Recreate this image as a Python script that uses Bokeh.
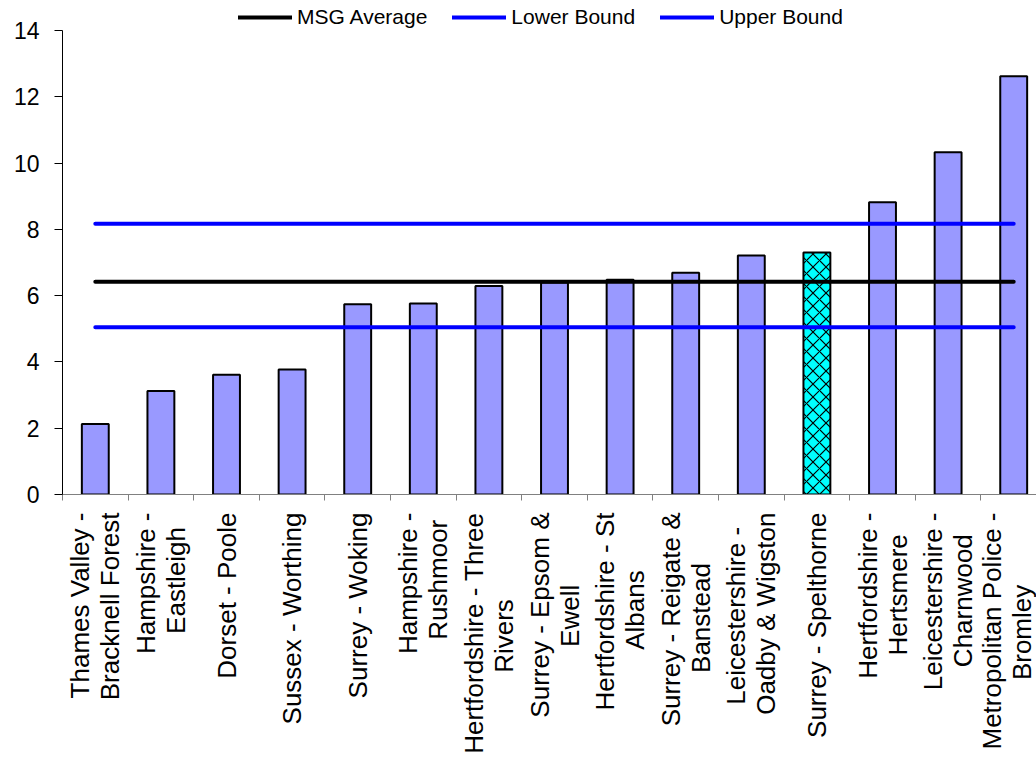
from math import pi
from bokeh.plotting import figure
from bokeh.models import (Range1d, FixedTicker, Legend, LegendItem, ColumnDataSource)
from bokeh.embed import file_html
from bokeh.resources import INLINE

# ---------------- data ----------------
categories = [
    "Thames Valley - Bracknell Forest", "Hampshire - Eastleigh", "Dorset - Poole",
    "Sussex - Worthing", "Surrey - Woking", "Hampshire - Rushmoor",
    "Hertfordshire - Three Rivers", "Surrey - Epsom & Ewell", "Hertfordshire - St Albans",
    "Surrey - Reigate & Banstead", "Leicestershire - Oadby & Wigston", "Surrey - Spelthorne",
    "Hertfordshire - Hertsmere", "Leicestershire - Charnwood", "Metropolitan Police - Bromley",
]
tick_labels = [
    "Thames Valley -\nBracknell Forest", "Hampshire -\nEastleigh", "Dorset - Poole",
    "Sussex - Worthing", "Surrey - Woking", "Hampshire -\nRushmoor",
    "Hertfordshire - Three\nRivers", "Surrey - Epsom &\nEwell", "Hertfordshire - St\nAlbans",
    "Surrey - Reigate &\nBanstead", "Leicestershire -\nOadby & Wigston", "Surrey - Spelthorne",
    "Hertfordshire -\nHertsmere", "Leicestershire -\nCharnwood", "Metropolitan Police -\nBromley",
]
values = [2.13, 3.12, 3.61, 3.77, 5.74, 5.76, 6.29, 6.40, 6.48, 6.69, 7.21, 7.30, 8.82, 10.33, 12.62]
highlight = "Surrey - Spelthorne"
msg_average = 6.42
lower_bound = 5.05
upper_bound = 8.17
y_ticks = [0, 2, 4, 6, 8, 10, 12, 14]
Y_AXIS_MAX = 14

# ---------------- layout ----------------
W, H = 1036, 761
LEFT, BOTTOM = 62, 267
FRAME_H = H - BOTTOM                  # frame reaches the top of the canvas
AXIS_TOP_PX = 30                      # where the value 14 sits
px_per_unit = (FRAME_H - AXIS_TOP_PX) / Y_AXIS_MAX
y_end = FRAME_H / px_per_unit
n = len(categories)
cat_pitch = 65.6                      # px per category
x_end = -0.5 + (W - LEFT) / cat_pitch

FONT = "Liberation Sans"
CAT_FS = 26

# approximate advance widths (Arial / Liberation Sans, per 1000 em) used to
# centre the wrapped lines of each rotated category label on each other
CW = {' ': 278, '-': 333, '&': 667, 'A': 667, 'B': 667, 'C': 722, 'D': 722, 'E': 667,
      'F': 611, 'H': 722, 'L': 556, 'M': 833, 'O': 778, 'P': 667, 'R': 722, 'S': 667,
      'T': 611, 'V': 667, 'W': 944, 'a': 556, 'b': 556, 'c': 500, 'd': 556, 'e': 556,
      'f': 278, 'g': 556, 'h': 556, 'i': 222, 'k': 500, 'l': 222, 'm': 833, 'n': 556,
      'o': 556, 'p': 556, 'r': 333, 's': 500, 't': 278, 'u': 556, 'v': 500, 'w': 722,
      'x': 500, 'y': 500}


def text_w(s):
    return sum(CW.get(c, 556) for c in s) / 1000.0 * CAT_FS


def centre_lines(label):
    lines = label.split("\n")
    if len(lines) == 1:
        return label
    L = max(text_w(s) for s in lines)
    sp = CW[' '] / 1000.0 * CAT_FS
    out = []
    for s in lines:
        k = int(round((L - text_w(s)) / 2.0 / sp))
        out.append(s + "\u00a0" * k)
    return "\n".join(out)


p = figure(width=W, height=H, output_backend="svg", toolbar_location=None,
           x_range=Range1d(-0.5, x_end), y_range=Range1d(0, y_end),
           min_border_left=LEFT, min_border_right=0, min_border_top=0,
           min_border_bottom=BOTTOM)
p.outline_line_color = None
p.grid.visible = False
p.background_fill_color = "white"
p.border_fill_color = "white"

xs = list(range(n))

# x axis: labels at category centres, ticks at category boundaries
p.xaxis.ticker = FixedTicker(ticks=xs, minor_ticks=[i - 0.5 for i in range(n + 1)])
p.xaxis.major_label_overrides = {i: centre_lines(tick_labels[i]) for i in xs}
p.xaxis.major_label_orientation = pi / 2
p.xaxis.axis_line_color = "#808080"
p.xaxis.axis_line_width = 1
p.xaxis.minor_tick_line_color = "#808080"
p.xaxis.minor_tick_in = 0
p.xaxis.minor_tick_out = 6
p.xaxis.major_tick_in = 0
p.xaxis.major_tick_out = 0
p.xaxis.major_label_standoff = 12
p.xaxis.major_label_text_font = FONT
p.xaxis.major_label_text_font_size = f"{CAT_FS}px"
p.xaxis.major_label_text_color = "black"
p.xaxis.major_label_text_line_height = 1.0

# y axis (line limited to 0..14)
p.yaxis.bounds = (0, Y_AXIS_MAX)
p.yaxis.ticker = FixedTicker(ticks=y_ticks, minor_ticks=[])
p.yaxis.axis_line_color = "#000000"
p.yaxis.major_tick_line_color = "#000000"
p.yaxis.major_tick_in = 0
p.yaxis.major_tick_out = 8
p.yaxis.minor_tick_out = 0
p.yaxis.minor_tick_in = 0
p.yaxis.major_label_standoff = 15
p.yaxis.major_label_text_font = FONT
p.yaxis.major_label_text_font_size = "23px"
p.yaxis.major_label_text_color = "black"

# bars
norm_idx = [i for i, c in enumerate(categories) if c != highlight]
hi_idx = [i for i, c in enumerate(categories) if c == highlight]
src_norm = ColumnDataSource(dict(x=[xs[i] for i in norm_idx], top=[values[i] for i in norm_idx]))
src_hi = ColumnDataSource(dict(x=[xs[i] for i in hi_idx], top=[values[i] for i in hi_idx]))

BAR_W = 0.41
p.vbar(x="x", top="top", bottom=0, width=BAR_W, source=src_norm,
       fill_color="#9999FF", line_color="black", line_width=2)
p.vbar(x="x", top="top", bottom=0, width=BAR_W, source=src_hi,
       fill_color="#00FFFF", line_color="black", line_width=2,
       hatch_pattern="diagonal_cross", hatch_color="black", hatch_scale=13,
       hatch_weight=1.2)

# reference lines
r_avg = p.line(xs, [msg_average] * n, line_color="black", line_width=4, line_cap="round")
r_low = p.line(xs, [lower_bound] * n, line_color="#0000FF", line_width=4, line_cap="round")
r_up = p.line(xs, [upper_bound] * n, line_color="#0000FF", line_width=4, line_cap="round")

legend = Legend(items=[LegendItem(label="MSG Average", renderers=[r_avg]),
                       LegendItem(label="Lower Bound", renderers=[r_low]),
                       LegendItem(label="Upper Bound", renderers=[r_up])],
                orientation="horizontal", location=(176, FRAME_H - 29),
                glyph_width=54, glyph_height=20, label_height=20, label_standoff=5,
                spacing=25, padding=0, margin=0, border_line_color=None,
                background_fill_alpha=0, label_text_font=FONT,
                label_text_font_size="21px", label_text_color="black")
p.add_layout(legend)

open("out.html", "w").write(file_html(p, INLINE))
